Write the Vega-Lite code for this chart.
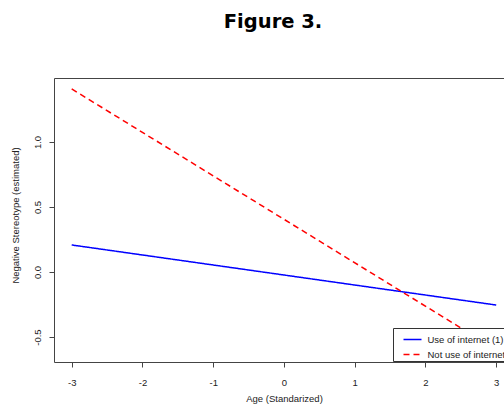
{
  "$schema": "https://vega.github.io/schema/vega-lite/v6.json",
  "width": 450,
  "height": 284,
  "autosize": {"type": "none"},
  "padding": {"left": 54, "top": 78, "right": 0, "bottom": 43},
  "background": "white",
  "title": {"text": "Figure 3.", "fontSize": 19.5, "font": "DejaVu Sans", "fontWeight": "bold", "anchor": "middle", "dx": -6, "offset": 46, "color": "black"},
  "data": {"values": [
    {"age": -3, "stereotype": 0.208, "group": "Use of internet (1)"},
    {"age": 3, "stereotype": -0.254, "group": "Use of internet (1)"},
    {"age": -3, "stereotype": 1.408, "group": "Not use of internet(0)"},
    {"age": 3, "stereotype": -0.597, "group": "Not use of internet(0)"}
  ]},
  "layer": [
    {
      "mark": {"type": "line", "strokeWidth": 1.5, "clip": true},
      "encoding": {
        "x": {"field": "age", "type": "quantitative",
          "scale": {"domain": [-3.25, 3.11], "nice": false, "zero": false},
          "axis": {"orient": "bottom", "values": [-3, -2, -1, 0, 1, 2, 3], "labelExpr": "(datum.value < 0 ? '-' : '') + format(abs(datum.value), 'd')", "title": "Age (Standarized)", "titleX": 230, "titlePadding": 7, "labelPadding": 10}},
        "y": {"field": "stereotype", "type": "quantitative",
          "scale": {"domain": [-0.692, 1.492], "nice": false, "zero": false},
          "axis": {"values": [-0.5, 0, 0.5, 1], "labelExpr": "(datum.value < 0 ? '-' : '') + format(abs(datum.value), '.1f')", "labelAngle": 270, "labelAlign": "center", "labelBaseline": "bottom", "labelPadding": 7, "title": "Negative Stereotype (estimated)", "titleY": 137, "titlePadding": 12}},
        "color": {"field": "group", "type": "nominal",
          "scale": {"domain": ["Use of internet (1)", "Not use of internet(0)"], "range": ["#0000ff", "#ff0000"]},
          "legend": {"title": null, "orient": "none", "legendX": 339, "legendY": 250, "fillColor": "white", "strokeColor": "#333333", "padding": 1.5, "symbolOffset": 8, "symbolType": "stroke", "symbolSize": 324, "symbolStrokeWidth": 1.5, "labelFont": "Liberation Sans", "labelFontSize": 9.5, "labelColor": "#222222", "labelLimit": 300, "rowPadding": -8.5, "labelOffset": 5}},
        "strokeDash": {"field": "group", "type": "nominal",
          "scale": {"domain": ["Use of internet (1)", "Not use of internet(0)"], "range": [[1, 0], [6, 4]]},
          "legend": {"title": null}}
      }
    },
    {
      "mark": {"type": "line", "opacity": 0},
      "encoding": {
        "x": {"field": "age", "type": "quantitative", "axis": {"orient": "top", "labels": false, "ticks": false, "title": null}},
        "y": {"field": "stereotype", "type": "quantitative"}
      }
    }
  ],
  "resolve": {"axis": {"x": "independent"}},
  "config": {
    "view": {"stroke": null},
    "axis": {"grid": false, "domainColor": "#444444", "domainWidth": 1, "tickColor": "#444444", "tickSize": 5, "labelFont": "Liberation Sans", "labelFontSize": 9.5, "labelColor": "#222222", "titleFont": "Liberation Sans", "titleFontSize": 9.5, "titleFontWeight": "normal", "titleColor": "#222222"}
  }
}
